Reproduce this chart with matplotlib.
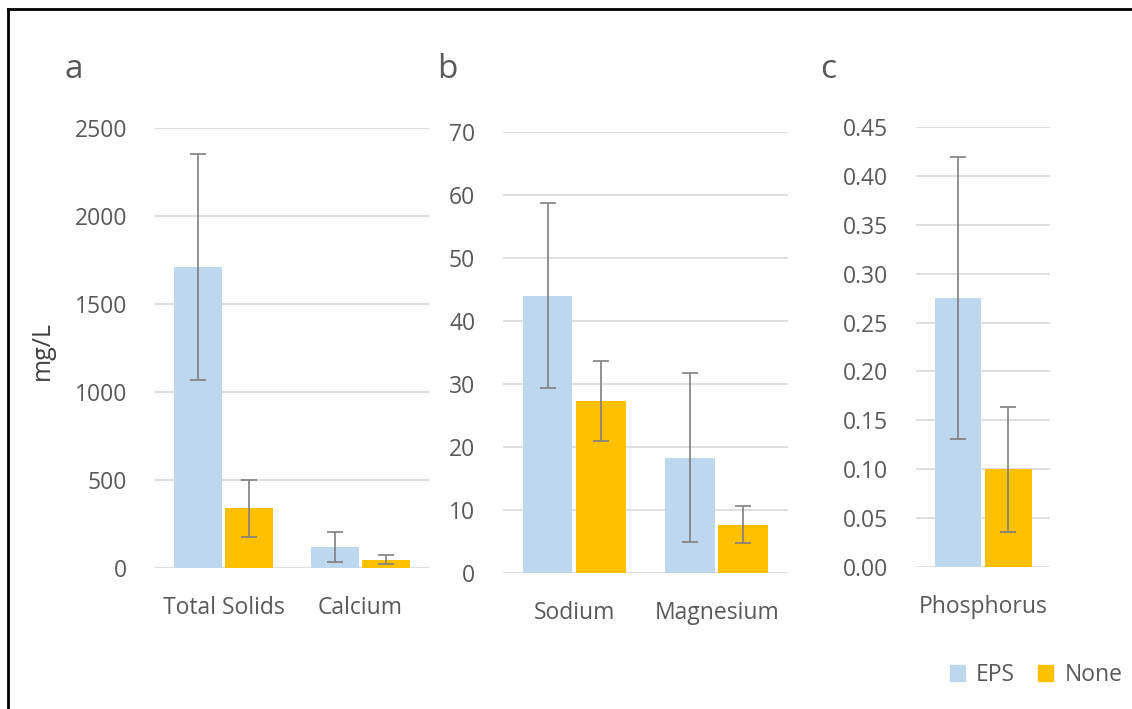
import matplotlib.pyplot as plt
import numpy as np

plt.rcParams['font.family'] = ['Open Sans', 'DejaVu Sans']

# data
series = ['EPS', 'None']
colors = ['#BDD7EE', '#FFC000']

cats_a = ['Total Solids', 'Calcium']
eps_a = [1710, 120]
eps_err_a = [640, 85]
none_a = [340, 48]
none_err_a = [162, 23]

cats_b = ['Sodium', 'Magnesium']
eps_b = [44.0, 18.3]
eps_err_b = [14.7, 13.4]
none_b = [27.3, 7.7]
none_err_b = [6.4, 2.9]

cats_c = ['Phosphorus']
eps_c = [0.275]
eps_err_c = [0.144]
none_c = [0.100]
none_err_c = [0.064]

text_col = '#595959'
grid_col = '#D9D9D9'
fs = 16.5

fig = plt.figure(figsize=(11.32, 7.09), dpi=100)


def panel(rect, cats, eps, eps_err, none, none_err, ylim, yticks, fmt, xpad):
    ax = fig.add_axes(rect)
    x = np.arange(len(cats))
    w = 0.35
    off = w / 2 + 0.012
    ax.bar(x - off, eps, w, color=colors[0], zorder=2)
    ax.bar(x + off, none, w, color=colors[1], zorder=2)
    ek = dict(ecolor='#7F7F7F', elinewidth=1.2, capsize=6, capthick=1.2, zorder=3)
    ax.errorbar(x - off, eps, yerr=eps_err, fmt='none', **ek)
    ax.errorbar(x + off, none, yerr=none_err, fmt='none', **ek)
    ax.set_xlim(-0.5, len(cats) - 0.5)
    ax.set_ylim(*ylim)
    ax.set_yticks(yticks)
    ax.set_yticklabels([fmt.format(v) for v in yticks])
    ax.set_xticks(x)
    ax.set_xticklabels(cats)
    ax.yaxis.grid(True, color=grid_col, linewidth=1.2, zorder=0)
    ax.set_axisbelow(True)
    for s in ax.spines.values():
        s.set_visible(False)
    ax.tick_params(axis='both', length=0, labelsize=fs, labelcolor=text_col)
    ax.tick_params(axis='y', pad=20)
    ax.tick_params(axis='x', pad=xpad)
    return ax


ax_a = panel([0.1369, 0.1989, 0.2420, 0.6206], cats_a, eps_a, eps_err_a, none_a, none_err_a,
             (0, 2500), np.arange(0, 2501, 500), '{:.0f}', 20)
ax_b = panel([0.4443, 0.1918, 0.2518, 0.6220], cats_b, eps_b, eps_err_b, none_b, none_err_b,
             (0, 70), np.arange(0, 71, 10), '{:.0f}', 20)
ax_c = panel([0.8092, 0.2003, 0.1184, 0.6206], cats_c, eps_c, eps_err_c, none_c, none_err_c,
             (0, 0.45), np.round(np.arange(0, 0.451, 0.05), 2), '{:.2f}', 20)

fig.text(42 / 1132, 1 - 350 / 709, 'mg/L', rotation=90, ha='center', va='center',
         fontsize=18, color='#404040')

for lab, xp in zip(['a', 'b', 'c'], [74, 447, 828]):
    fig.text(xp / 1132, 1 - 70 / 709, lab, ha='center', va='center', fontsize=24, color=text_col)

handles = [plt.Rectangle((0, 0), 1, 1, color=c) for c in colors]
fig.legend(handles, series, loc='center', bbox_to_anchor=(1036 / 1132, 1 - 675 / 709), ncol=2,
           frameon=False, fontsize=fs, labelcolor=text_col, handlelength=0.65, handleheight=0.65,
           handletextpad=0.5, columnspacing=1.0)

# frame lines at the top and left of the picture
fig.add_artist(plt.Line2D([8 / 1132, 1], [1 - 9 / 709, 1 - 9 / 709], color='black', linewidth=2))
fig.add_artist(plt.Line2D([8 / 1132, 8 / 1132], [0, 1 - 9 / 709], color='black', linewidth=2))

fig.savefig('out.png', dpi=100)
